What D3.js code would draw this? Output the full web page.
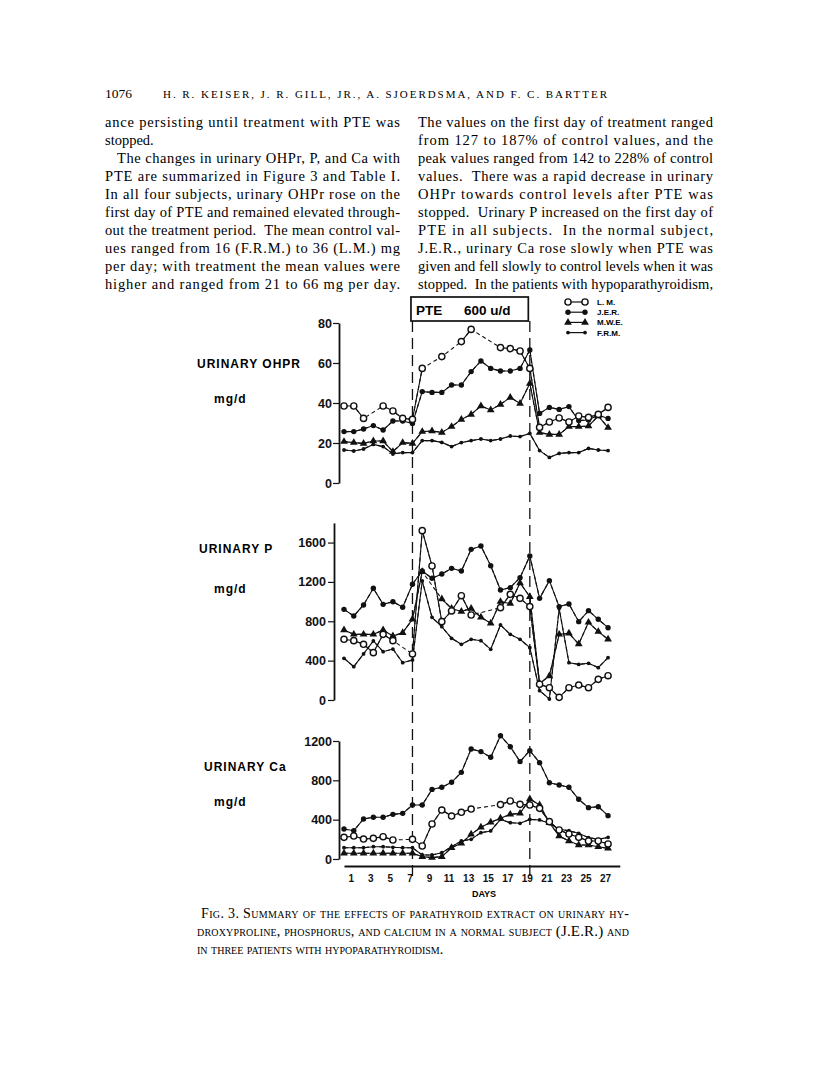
<!DOCTYPE html>
<html><head><meta charset="utf-8">
<script src="https://cdn.jsdelivr.net/npm/d3@7"></script>
<style>body{margin:0;background:#fff}svg{display:block}</style>
</head><body>
<script>
// ---------------- DATA ----------------
const N = null;
const days = d3.range(0, 28);
const dayLabels = d3.range(1, 28, 2);
const subjects = ["L. M.", "J.E.R.", "M.W.E.", "F.R.M."];

const ohprLM  = [38.5,38.5,32.3,N,38.5,36,32.3,31.8,57.3,N,63.2,N,70.7,76.8,N,N,67.7,67.2,66,57.3,27.8,30.5,32.5,30.5,33.5,32.8,34.3,37.8];
const ohprJER = [25.7,25.7,27,28.7,26.5,31,31,29.8,45.7,45.3,45.3,49,49,55.7,61,57.3,56,56,57.3,66.5,34.8,37.8,36.8,38.2,31.2,31.5,34,32.3];
const ohprMWE = [20.7,20.2,19.8,21,21,15.7,20.2,19.8,25.7,26,25.3,28.2,31.8,34.3,38.5,36.5,39.3,42.8,39.8,49.8,25.2,24.3,24.3,28.2,28.2,28.5,33.5,27.7];
const ohprFRM = [16.5,16,17,19.3,18.2,14.5,15.2,15.2,21.2,21.2,20.3,18.2,20.2,21.2,22,21.2,22,23.5,23.2,24.8,16.2,12.8,14.8,15.2,15.2,17.3,16.5,16.2];

const pLM  = [617,603,566,481,667,603,N,468,1721,1362,796,905,1060,864,N,N,938,1074,1033,949,160,125,27,125,152,125,210,247];
const pJER = [921,854,966,1135,972,999,942,1176,1311,1237,1281,1338,1311,1531,1565,1365,1118,1142,1243,1464,1033,1213,949,976,796,908,820,735];
const pMWE = [711,667,667,667,711,650,684,820,1304,N,1026,930,900,930,840,780,1000,980,1190,1050,169,244,667,678,569,789,695,617];
const pFRM = [424,339,468,600,491,518,379,407,1210,840,745,627,566,617,603,515,762,667,617,532,95,10,930,379,362,373,329,430];

const caLM  = [220,234,203,210,227,193,N,200,132,356,498,437,475,508,N,N,553,590,556,549,515,380,295,254,220,183,183,153];
const caJER = [305,288,407,424,424,454,464,549,549,708,729,780,881,1119,1092,1034,1254,1142,990,1102,980,776,753,729,607,522,532,441];
const caMWE = [58,58,58,58,58,58,58,58,24,14,24,115,159,251,322,373,414,454,464,610,549,369,234,183,142,142,125,108];
const caFRM = [115,115,115,125,125,119,115,115,41,41,64,125,183,200,268,285,403,369,363,403,397,363,302,288,261,217,200,220];

const ohprTicks = [0,20,40,60,80];
const pTicks = [0,400,800,1200,1600];
const caTicks = [0,400,800,1200];
const pteStart = 7, pteEnd = 19;

const headerLeft = "1076";
const headerAuthors = "H. R. KEISER, J. R. GILL, JR., A. SJOERDSMA, AND F. C. BARTTER";
const col1 = [
  ["ance persisting until treatment with PTE was", true, 0],
  ["stopped.", false, 0],
  ["The changes in urinary OHPr, P, and Ca with", true, 12],
  ["PTE are summarized in Figure 3 and Table I.", true, 0],
  ["In all four subjects, urinary OHPr rose on the", true, 0],
  ["first day of PTE and remained elevated through-", true, 0],
  ["out the treatment period.  The mean control val-", true, 0],
  ["ues ranged from 16 (F.R.M.) to 36 (L.M.) mg", true, 0],
  ["per day; with treatment the mean values were", true, 0],
  ["higher and ranged from 21 to 66 mg per day.", true, 0]
];
const col2 = [
  ["The values on the first day of treatment ranged", true, 0],
  ["from 127 to 187% of control values, and the", true, 0],
  ["peak values ranged from 142 to 228% of control", true, 0],
  ["values.  There was a rapid decrease in urinary", true, 0],
  ["OHPr towards control levels after PTE was", true, 0],
  ["stopped.  Urinary P increased on the first day of", true, 0],
  ["PTE in all subjects.  In the normal subject,", true, 0],
  ["J.E.R., urinary Ca rose slowly when PTE was", true, 0],
  ["given and fell slowly to control levels when it was", true, 0],
  ["stopped.  In the patients with hypoparathyroidism,", true, 0]
];

// ---------------- DRAW ----------------
const W = 816, H = 1077;
const svg = d3.select("body").append("svg").attr("width", W).attr("height", H)
  .style("background", "#fff");

const serif = "'Liberation Serif','Times New Roman',serif";
const sans = "'Liberation Sans',Arial,sans-serif";

// header
svg.append("text").attr("x", 105).attr("y", 98).attr("font-family", serif)
  .attr("font-size", 13.5).text(headerLeft);
svg.append("text").attr("x", 163).attr("y", 98).attr("font-family", serif)
  .attr("font-size", 11).attr("textLength", 444).attr("lengthAdjust", "spacing")
  .text(headerAuthors);

function drawColumn(lines, x0, width) {
  lines.forEach((l, i) => {
    const t = svg.append("text").attr("x", x0 + l[2]).attr("y", 127 + i * 18)
      .attr("font-family", serif).attr("font-size", 14.5).attr("xml:space", "preserve")
      .text(l[0]);
    if (l[1]) t.attr("textLength", width - l[2]).attr("lengthAdjust", "spacing");
  });
}
drawColumn(col1, 105, 295);
drawColumn(col2, 418, 295);

// scales
const x = d3.scaleLinear().domain([0, 28.2]).range([344, 344 + 28.2 * 9.78]);
const yO = d3.scaleLinear().domain([0, 80]).range([483, 323]);
const yP = d3.scaleLinear().domain([0, 1800]).range([700, 700 - 1800 * 0.0984]);
const yC = d3.scaleLinear().domain([0, 1200]).range([859, 741]);

function yAxis(y, ax, majors, minors, labPad) {
  const g = svg.append("g").attr("transform", `translate(${ax},0)`);
  g.call(d3.axisLeft(y).tickValues(minors).tickSize(3.5).tickSizeOuter(0).tickFormat(""));
  g.call(d3.axisLeft(y).tickValues(majors).tickSize(6).tickSizeOuter(0).tickPadding(labPad)
    .tickFormat(d3.format("d")));
  g.selectAll(".domain").attr("stroke-width", 1.8).attr("stroke", "#111");
  g.selectAll(".tick line").attr("stroke-width", 1.2).attr("stroke", "#111");
  g.selectAll("text").attr("font-family", sans).attr("font-weight", "bold")
    .attr("font-size", 12.5).attr("fill", "#111");
  return g;
}
yAxis(yO, 339, ohprTicks, d3.range(0, 81, 10), 1);
yAxis(yP, 334, pTicks, d3.range(0, 1801, 200), 2);
yAxis(yC, 339, caTicks, d3.range(0, 1201, 100), 1);

// x axis
const xg = svg.append("g").attr("transform", "translate(0,866)");
xg.call(d3.axisBottom(x).tickValues(d3.range(0, 29)).tickSize(4).tickSizeOuter(0).tickFormat(""));
xg.call(d3.axisBottom(x).tickValues(dayLabels).tickSize(0).tickPadding(9).tickFormat(d3.format("d")));
xg.selectAll(".domain").attr("stroke-width", 1.8).attr("stroke", "#111");
xg.selectAll(".tick line").attr("stroke-width", 1.2).attr("stroke", "#111");
xg.selectAll("text").attr("font-family", sans).attr("font-weight", "bold")
  .attr("font-size", 10).attr("dx", -3).attr("fill", "#111");
svg.append("text").attr("x", 484).attr("y", 897).attr("text-anchor", "middle")
  .attr("font-family", sans).attr("font-weight", "bold").attr("font-size", 9).text("DAYS");

// PTE dashed lines and box
[pteStart, pteEnd].forEach(d => {
  svg.append("line").attr("x1", x(d)).attr("x2", x(d)).attr("y1", 321).attr("y2", 878)
    .attr("stroke", "#111").attr("stroke-width", 1.3).attr("stroke-dasharray", "11,6");
});
svg.append("rect").attr("x", x(pteStart) - 1.5).attr("y", 297)
  .attr("width", x(pteEnd) - x(pteStart)).attr("height", 24)
  .attr("fill", "#fff").attr("stroke", "#111").attr("stroke-width", 1.7);
svg.append("text").attr("x", 416).attr("y", 315).attr("font-family", sans)
  .attr("font-weight", "bold").attr("font-size", 13.5).text("PTE");
svg.append("text").attr("x", 464).attr("y", 315).attr("font-family", sans)
  .attr("font-weight", "bold").attr("font-size", 13.5).text("600 u/d");

// panel titles
function title(t, x0, y0) {
  svg.append("text").attr("x", x0).attr("y", y0).attr("font-family", sans)
    .attr("font-weight", "bold").attr("font-size", 12).attr("letter-spacing", 1).text(t);
}
title("URINARY OHPR", 197, 368); title("mg/d", 214, 403);
title("URINARY P", 199, 553); title("mg/d", 214, 593);
title("URINARY Ca", 204, 771); title("mg/d", 214, 806);

// markers
function marker(g, kind, cx, cy) {
  if (kind === "open") g.append("circle").attr("cx", cx).attr("cy", cy).attr("r", 3.1)
    .attr("fill", "#fff").attr("stroke", "#111").attr("stroke-width", 1.4);
  else if (kind === "big") g.append("circle").attr("cx", cx).attr("cy", cy).attr("r", 2.7).attr("fill", "#111");
  else if (kind === "small") g.append("circle").attr("cx", cx).attr("cy", cy).attr("r", 1.9).attr("fill", "#111");
  else g.append("path").attr("d", d3.symbol(d3.symbolTriangle, 26)())
    .attr("transform", `translate(${cx},${cy})`).attr("fill", "#111");
}

function series(vals, y, kind) {
  const g = svg.append("g");
  const pts = days.map((d, i) => [d, vals[i]]);
  const full = pts.filter(p => p[1] !== null);
  const line = d3.line().x(p => x(p[0])).y(p => y(p[1]));
  g.append("path").attr("d", line(full)).attr("fill", "none").attr("stroke", "#111")
    .attr("stroke-width", 1.1).attr("stroke-dasharray", "4,3");
  g.append("path").attr("d", line.defined(p => p[1] !== null)(pts)).attr("fill", "none")
    .attr("stroke", "#111").attr("stroke-width", 1.1);
  full.forEach(p => marker(g, kind, x(p[0]), y(p[1])));
}
const kinds = ["open", "big", "tri", "small"];
[[ohprFRM, ohprMWE, ohprJER, ohprLM], [pFRM, pMWE, pJER, pLM], [caFRM, caMWE, caJER, caLM]]
  .forEach((set, k) => {
    const y = [yO, yP, yC][k];
    series(set[0], y, "small"); series(set[1], y, "tri");
    series(set[2], y, "big"); series(set[3], y, "open");
  });

// legend
subjects.forEach((s, i) => {
  const yy = 302 + i * 10.2;
  const g = svg.append("g");
  g.append("line").attr("x1", 568).attr("x2", 585).attr("y1", yy).attr("y2", yy)
    .attr("stroke", "#111").attr("stroke-width", 1.2);
  marker(g, kinds[i], 568, yy); marker(g, kinds[i], 585, yy);
  g.append("text").attr("x", 597).attr("y", yy + 3).attr("font-family", sans)
    .attr("font-weight", "bold").attr("font-size", 8).text(s);
});

// caption
const cap = svg.append("g").attr("font-family", serif).attr("font-size", 14);
cap.append("text").attr("x", 201).attr("y", 918).attr("textLength", 428)
  .attr("lengthAdjust", "spacing").attr("font-variant", "small-caps")
  .text("Fig. 3.  Summary of the effects of parathyroid extract on urinary hy-");
const c2 = cap.append("text").attr("x", 197).attr("y", 936).attr("textLength", 432)
  .attr("lengthAdjust", "spacing");
c2.append("tspan").attr("font-variant", "small-caps")
  .text("droxyproline, phosphorus, and calcium in a normal subject ");
c2.append("tspan").attr("font-size", 15).text("(J.E.R.)");
c2.append("tspan").attr("font-variant", "small-caps").text(" and");
cap.append("text").attr("x", 197).attr("y", 954).attr("font-variant", "small-caps")
  .text("in three patients with hypoparathyroidism.");
</script>
</body></html>
